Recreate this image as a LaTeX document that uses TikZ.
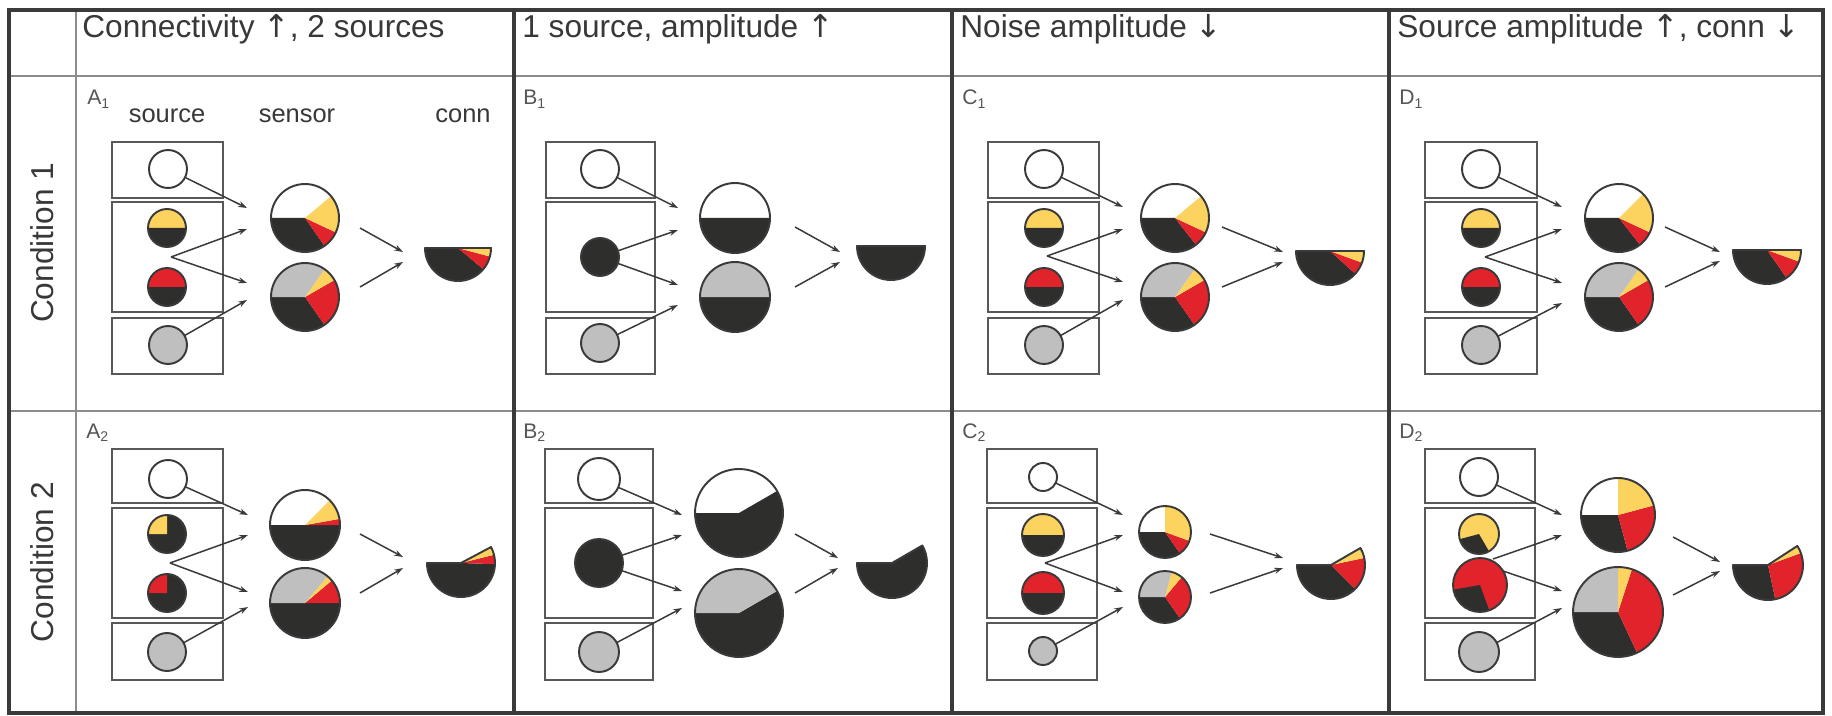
\documentclass[tikz,border=0pt]{standalone}
\usepackage{fontspec}
\setmainfont{Liberation Sans}
\newfontfamily\arrowfont{DejaVu Sans}
\usetikzlibrary{arrows.meta}

\definecolor{blk}{HTML}{2E2E2C}
\definecolor{yel}{HTML}{FBD35E}
\definecolor{rd}{HTML}{E1232B}
\definecolor{gry}{HTML}{BFBFBF}
\definecolor{edge}{HTML}{3A3A3A}
\definecolor{rule}{HTML}{8C8C8C}
\definecolor{txt}{HTML}{383838}

\newcommand{\upar}{{\arrowfont ↑}}
\newcommand{\downar}{{\arrowfont ↓}}
% one slice of a pie: centre, radius, from, to, colour
\newcommand{\pieslice}[5]{\fill[#5] (#1) -- ++(#3:#2) arc[start angle=#3, end angle=#4, radius=#2] -- cycle;}
% outline of the conn wedge: centre, radius, from, to
\newcommand{\connrim}[4]{\draw[edge, line width=1.1pt, line join=round] (#1) -- ++(#3:#2) arc[start angle=#3, end angle=#4, radius=#2] -- cycle;}

\begin{document}
\begin{tikzpicture}[x=0.02cm, y=0.02cm,
    ball/.style={circle, draw=edge, line width=1.1pt, inner sep=0pt, outer sep=0pt, minimum size=0.04cm*#1},
    box/.style={draw=edge!85, line width=1.6pt},
    arr/.style={draw=edge, line width=0.85pt, -{Stealth[length=5pt, width=3.4pt]}},
    hd/.style={anchor=base west, inner sep=0pt, text=txt, font=\fontsize{18}{21}\selectfont},
    rowlab/.style={anchor=base, rotate=90, inner sep=0pt, text=txt, font=\fontsize{18}{21}\selectfont},
    sub/.style={anchor=base, inner sep=0pt, text=txt, font=\fontsize{14.5}{17}\selectfont},
    lbl/.style={anchor=base west, inner sep=0pt, text=txt!85, font=\fontsize{12}{14}\selectfont}]

  \fill[white] (0,0) rectangle (1832,-716);
  \useasboundingbox (0,0) rectangle (1832,-716);

  % Draw the table
  \draw[rule, line width=1.4pt] (9,-76) -- (1823,-76);
  \draw[rule, line width=1.4pt] (9,-411) -- (1823,-411);
  \draw[rule, line width=1.4pt] (76,-10) -- (76,-713);
  \foreach \xc in {514,952,1389}
    \draw[edge, line width=2.2pt] (\xc,-10) -- (\xc,-713);
  \draw[edge, line width=2.6pt] (9,-10) rectangle (1823,-713);

  \node[hd] (hA) at (82,-38) {Connectivity \upar, 2 sources};
  \node[hd] (hB) at (522,-38) {1 source, amplitude \upar};
  \node[hd] (hC) at (960,-38) {Noise amplitude \downar};
  \node[hd] (hD) at (1397,-38) {Source amplitude \upar, conn \downar};
  \node[rowlab] (row1) at (53,-243) {Condition 1};
  \node[rowlab] (row2) at (53,-562) {Condition 2};

  % A1
  \begin{scope}[shift={(76,-76)}]
    \node[lbl] (la) at (11,-29) {A\textsubscript{1}};
    \node[sub] (lsrc) at (91,-47) {source};
    \node[sub] (lsen) at (221,-47) {sensor};
    \node[sub] (lcon) at (387,-47) {conn};
    \draw[box] (36,-66) rectangle (147,-122);
    \draw[box] (36,-126) rectangle (147,-236);
    \draw[box] (36,-242) rectangle (147,-298);
    \coordinate (cy) at (91,-152); \coordinate (cr) at (91,-211);
    \pieslice{cy}{19}{0}{180}{yel} \pieslice{cy}{19}{180}{360}{blk}
    \pieslice{cr}{19}{0}{180}{rd} \pieslice{cr}{19}{180}{360}{blk}
    \node[ball=19] (w) at (92,-93) {};
    \node[ball=19] (y) at (cy) {};
    \node[ball=19] (r) at (cr) {};
    \node[ball=19, fill=gry] (g) at (92,-269) {};
    \coordinate (f) at (95,-181);
    \coordinate (c1) at (229,-142); \coordinate (c2) at (229,-221);
    \pieslice{c1}{34}{180}{305}{blk} \pieslice{c1}{34}{305}{335}{rd} \pieslice{c1}{34}{335}{400}{yel}
    \pieslice{c2}{34}{180}{305}{blk} \pieslice{c2}{34}{305}{390}{rd} \pieslice{c2}{34}{30}{55}{yel} \pieslice{c2}{34}{55}{180}{gry}
    \node[ball=34] (s1) at (c1) {};
    \node[ball=34] (s2) at (c2) {};
    \coordinate (e1) at (171,-132); \coordinate (e2) at (171,-153);
    \coordinate (e3) at (171,-207); \coordinate (e4) at (171,-224);
    \draw[arr] (w) -- (e1);
    \draw[arr] (f) -- (e2);
    \draw[arr] (f) -- (e3);
    \draw[arr] (g) -- (e4);
    \coordinate (k) at (382,-172);
    \pieslice{k}{33}{180}{320}{blk} \pieslice{k}{33}{320}{345}{rd} \pieslice{k}{33}{345}{360}{yel}
    \connrim{k}{33}{180}{360}
    \coordinate (o1) at (284,-152); \coordinate (t1) at (327,-176);
    \coordinate (o2) at (284,-211); \coordinate (t2) at (327,-186);
    \draw[arr] (o1) -- (t1);
    \draw[arr] (o2) -- (t2);
  \end{scope}

  % B1
  \begin{scope}[shift={(514,-76)}]
    \node[lbl] (lb) at (9,-29) {B\textsubscript{1}};
    \draw[box] (32,-66) rectangle (141,-122);
    \draw[box] (32,-126) rectangle (141,-236);
    \draw[box] (32,-242) rectangle (141,-298);
    \node[ball=19] (w) at (86,-93) {};
    \node[ball=19, fill=blk] (m) at (86,-181) {};
    \node[ball=19, fill=gry] (g) at (86,-267) {};
    \coordinate (c1) at (221,-142); \coordinate (c2) at (221,-221);
    \pieslice{c1}{35}{180}{360}{blk}
    \pieslice{c2}{35}{180}{360}{blk} \pieslice{c2}{35}{0}{180}{gry}
    \node[ball=35] (s1) at (c1) {};
    \node[ball=35] (s2) at (c2) {};
    \coordinate (e1) at (164,-132); \coordinate (e2) at (164,-154);
    \coordinate (e3) at (164,-209); \coordinate (e4) at (164,-229);
    \draw[arr] (w) -- (e1);
    \draw[arr] (m) -- (e2);
    \draw[arr] (m) -- (e3);
    \draw[arr] (g) -- (e4);
    \coordinate (k) at (377,-170);
    \pieslice{k}{34}{180}{360}{blk}
    \connrim{k}{34}{180}{360}
    \coordinate (o1) at (281,-151); \coordinate (t1) at (326,-176);
    \coordinate (o2) at (281,-211); \coordinate (t2) at (326,-186);
    \draw[arr] (o1) -- (t1);
    \draw[arr] (o2) -- (t2);
  \end{scope}

  % C1
  \begin{scope}[shift={(952,-76)}]
    \node[lbl] (lc) at (10,-29) {C\textsubscript{1}};
    \draw[box] (36,-66) rectangle (147,-122);
    \draw[box] (36,-126) rectangle (147,-236);
    \draw[box] (36,-242) rectangle (147,-298);
    \coordinate (cy) at (92,-152); \coordinate (cr) at (92,-211);
    \pieslice{cy}{19}{0}{180}{yel} \pieslice{cy}{19}{180}{360}{blk}
    \pieslice{cr}{19}{0}{180}{rd} \pieslice{cr}{19}{180}{360}{blk}
    \node[ball=19] (w) at (92,-93) {};
    \node[ball=19] (y) at (cy) {};
    \node[ball=19] (r) at (cr) {};
    \node[ball=19, fill=gry] (g) at (92,-269) {};
    \coordinate (f) at (95,-180);
    \coordinate (c1) at (223,-142); \coordinate (c2) at (223,-221);
    \pieslice{c1}{34}{180}{308}{blk} \pieslice{c1}{34}{308}{335}{rd} \pieslice{c1}{34}{335}{400}{yel}
    \pieslice{c2}{34}{180}{305}{blk} \pieslice{c2}{34}{305}{390}{rd} \pieslice{c2}{34}{30}{55}{yel} \pieslice{c2}{34}{55}{180}{gry}
    \node[ball=34] (s1) at (c1) {};
    \node[ball=34] (s2) at (c2) {};
    \coordinate (e1) at (171,-131); \coordinate (e2) at (171,-153);
    \coordinate (e3) at (171,-206); \coordinate (e4) at (171,-224);
    \draw[arr] (w) -- (e1);
    \draw[arr] (f) -- (e2);
    \draw[arr] (f) -- (e3);
    \draw[arr] (g) -- (e4);
    \coordinate (k) at (378,-175);
    \pieslice{k}{34}{180}{318}{blk} \pieslice{k}{34}{318}{340}{rd} \pieslice{k}{34}{340}{360}{yel}
    \connrim{k}{34}{180}{360}
    \coordinate (o1) at (270,-151); \coordinate (t1) at (331,-176);
    \coordinate (o2) at (270,-211); \coordinate (t2) at (331,-186);
    \draw[arr] (o1) -- (t1);
    \draw[arr] (o2) -- (t2);
  \end{scope}

  % D1
  \begin{scope}[shift={(1389,-76)}]
    \node[lbl] (ld) at (10,-29) {D\textsubscript{1}};
    \draw[box] (36,-66) rectangle (148,-122);
    \draw[box] (36,-126) rectangle (148,-236);
    \draw[box] (36,-242) rectangle (148,-298);
    \coordinate (cy) at (92,-152); \coordinate (cr) at (92,-211);
    \pieslice{cy}{19}{0}{180}{yel} \pieslice{cy}{19}{180}{360}{blk}
    \pieslice{cr}{19}{0}{180}{rd} \pieslice{cr}{19}{180}{360}{blk}
    \node[ball=19] (w) at (92,-93) {};
    \node[ball=19] (y) at (cy) {};
    \node[ball=19] (r) at (cr) {};
    \node[ball=19, fill=gry] (g) at (92,-269) {};
    \coordinate (f) at (96,-181);
    \coordinate (c1) at (230,-142); \coordinate (c2) at (230,-221);
    \pieslice{c1}{34}{180}{308}{blk} \pieslice{c1}{34}{308}{335}{rd} \pieslice{c1}{34}{335}{405}{yel}
    \pieslice{c2}{34}{180}{305}{blk} \pieslice{c2}{34}{305}{390}{rd} \pieslice{c2}{34}{30}{55}{yel} \pieslice{c2}{34}{55}{180}{gry}
    \node[ball=34] (s1) at (c1) {};
    \node[ball=34] (s2) at (c2) {};
    \coordinate (e1) at (173,-131); \coordinate (e2) at (173,-153);
    \coordinate (e3) at (173,-207); \coordinate (e4) at (173,-227);
    \draw[arr] (w) -- (e1);
    \draw[arr] (f) -- (e2);
    \draw[arr] (f) -- (e3);
    \draw[arr] (g) -- (e4);
    \coordinate (k) at (378,-174);
    \pieslice{k}{34}{180}{305}{blk} \pieslice{k}{34}{305}{340}{rd} \pieslice{k}{34}{340}{360}{yel}
    \connrim{k}{34}{180}{360}
    \coordinate (o1) at (276,-151); \coordinate (t1) at (331,-176);
    \coordinate (o2) at (276,-211); \coordinate (t2) at (331,-185);
    \draw[arr] (o1) -- (t1);
    \draw[arr] (o2) -- (t2);
  \end{scope}

  % A2
  \begin{scope}[shift={(76,-411)}]
    \node[lbl] (la) at (10,-27) {A\textsubscript{2}};
    \draw[box] (36,-38) rectangle (147,-92);
    \draw[box] (36,-97) rectangle (147,-207);
    \draw[box] (36,-212) rectangle (147,-269);
    \coordinate (cy) at (91,-123); \coordinate (cr) at (91,-182);
    \pieslice{cy}{19}{0}{360}{blk} \pieslice{cy}{19}{90}{180}{yel}
    \pieslice{cr}{19}{0}{360}{blk} \pieslice{cr}{19}{90}{180}{rd}
    \node[ball=19] (w) at (92,-68) {};
    \node[ball=19] (y) at (cy) {};
    \node[ball=19] (r) at (cr) {};
    \node[ball=19, fill=gry] (g) at (91,-241) {};
    \coordinate (f) at (94,-152);
    \coordinate (c1) at (229,-114); \coordinate (c2) at (229,-192);
    \pieslice{c1}{35}{180}{360}{blk} \pieslice{c1}{35}{0}{10}{rd} \pieslice{c1}{35}{10}{45}{yel}
    \pieslice{c2}{35}{180}{360}{blk} \pieslice{c2}{35}{0}{40}{rd} \pieslice{c2}{35}{40}{50}{yel} \pieslice{c2}{35}{50}{180}{gry}
    \node[ball=35] (s1) at (c1) {};
    \node[ball=35] (s2) at (c2) {};
    \coordinate (e1) at (172,-104); \coordinate (e2) at (172,-124);
    \coordinate (e3) at (172,-181); \coordinate (e4) at (172,-196);
    \draw[arr] (w) -- (e1);
    \draw[arr] (f) -- (e2);
    \draw[arr] (f) -- (e3);
    \draw[arr] (g) -- (e4);
    \coordinate (k) at (385,-152);
    \pieslice{k}{34}{180}{358}{blk} \pieslice{k}{34}{358}{374}{rd} \pieslice{k}{34}{374}{388}{yel}
    \connrim{k}{34}{180}{388}
    \coordinate (o1) at (284,-123); \coordinate (t1) at (327,-146);
    \coordinate (o2) at (284,-182); \coordinate (t2) at (327,-157);
    \draw[arr] (o1) -- (t1);
    \draw[arr] (o2) -- (t2);
  \end{scope}

  % B2
  \begin{scope}[shift={(514,-411)}]
    \node[lbl] (lb) at (9,-27) {B\textsubscript{2}};
    \draw[box] (31,-38) rectangle (139,-92);
    \draw[box] (31,-97) rectangle (139,-207);
    \draw[box] (31,-212) rectangle (139,-269);
    \node[ball=21] (w) at (85,-68) {};
    \node[ball=24, fill=blk] (m) at (85,-152) {};
    \node[ball=20, fill=gry] (g) at (85,-241) {};
    \coordinate (c1) at (225,-102); \coordinate (c2) at (225,-202);
    \pieslice{c1}{44}{180}{390}{blk}
    \pieslice{c2}{44}{180}{390}{blk} \pieslice{c2}{44}{30}{180}{gry}
    \node[ball=44] (s1) at (c1) {};
    \node[ball=44] (s2) at (c2) {};
    \coordinate (e1) at (168,-104); \coordinate (e2) at (168,-124);
    \coordinate (e3) at (168,-180); \coordinate (e4) at (168,-197);
    \draw[arr] (w) -- (e1);
    \draw[arr] (m) -- (e2);
    \draw[arr] (m) -- (e3);
    \draw[arr] (g) -- (e4);
    \coordinate (k) at (378,-152);
    \pieslice{k}{35}{180}{390}{blk}
    \connrim{k}{35}{180}{390}
    \coordinate (o1) at (281,-123); \coordinate (t1) at (324,-147);
    \coordinate (o2) at (281,-182); \coordinate (t2) at (324,-157);
    \draw[arr] (o1) -- (t1);
    \draw[arr] (o2) -- (t2);
  \end{scope}

  % C2
  \begin{scope}[shift={(952,-411)}]
    \node[lbl] (lc) at (10,-27) {C\textsubscript{2}};
    \draw[box] (35,-38) rectangle (145,-92);
    \draw[box] (35,-97) rectangle (145,-207);
    \draw[box] (35,-212) rectangle (145,-269);
    \coordinate (cy) at (91,-124); \coordinate (cr) at (91,-182);
    \pieslice{cy}{21}{0}{180}{yel} \pieslice{cy}{21}{180}{360}{blk}
    \pieslice{cr}{21}{0}{180}{rd} \pieslice{cr}{21}{180}{360}{blk}
    \node[ball=14] (w) at (91,-66) {};
    \node[ball=21] (y) at (cy) {};
    \node[ball=21] (r) at (cr) {};
    \node[ball=14, fill=gry] (g) at (91,-240) {};
    \coordinate (f) at (93,-152);
    \coordinate (c1) at (213,-121); \coordinate (c2) at (213,-186);
    \pieslice{c1}{26}{180}{305}{blk} \pieslice{c1}{26}{305}{340}{rd} \pieslice{c1}{26}{340}{450}{yel}
    \pieslice{c2}{26}{180}{305}{blk} \pieslice{c2}{26}{305}{410}{rd} \pieslice{c2}{26}{50}{75}{yel} \pieslice{c2}{26}{75}{180}{gry}
    \node[ball=26] (s1) at (c1) {};
    \node[ball=26] (s2) at (c2) {};
    \coordinate (e1) at (171,-104); \coordinate (e2) at (171,-124);
    \coordinate (e3) at (171,-181); \coordinate (e4) at (171,-196);
    \draw[arr] (w) -- (e1);
    \draw[arr] (f) -- (e2);
    \draw[arr] (f) -- (e3);
    \draw[arr] (g) -- (e4);
    \coordinate (k) at (379,-154);
    \pieslice{k}{34}{180}{315}{blk} \pieslice{k}{34}{315}{372}{rd} \pieslice{k}{34}{372}{390}{yel}
    \connrim{k}{34}{180}{390}
    \coordinate (o1) at (258,-123); \coordinate (t1) at (331,-147);
    \coordinate (o2) at (258,-182); \coordinate (t2) at (331,-157);
    \draw[arr] (o1) -- (t1);
    \draw[arr] (o2) -- (t2);
  \end{scope}

  % D2
  \begin{scope}[shift={(1389,-411)}]
    \node[lbl] (ld) at (10,-27) {D\textsubscript{2}};
    \draw[box] (36,-38) rectangle (146,-92);
    \draw[box] (36,-97) rectangle (146,-207);
    \draw[box] (36,-212) rectangle (146,-269);
    \coordinate (cy) at (90,-123); \coordinate (cr) at (91,-174);
    \pieslice{cy}{20}{0}{360}{yel} \pieslice{cy}{20}{195}{300}{blk}
    \pieslice{cr}{27}{0}{360}{rd} \pieslice{cr}{27}{190}{290}{blk}
    \node[ball=19] (w) at (90,-66) {};
    \node[ball=20] (y) at (cy) {};
    \node[ball=27] (r) at (cr) {};
    \node[ball=20, fill=gry] (g) at (90,-241) {};
    \coordinate (f) at (104,-148); \coordinate (f2) at (114,-160);
    \coordinate (c1) at (229,-104); \coordinate (c2) at (229,-201);
    \pieslice{c1}{37}{180}{285}{blk} \pieslice{c1}{37}{285}{375}{rd} \pieslice{c1}{37}{15}{90}{yel}
    \pieslice{c2}{45}{180}{295}{blk} \pieslice{c2}{45}{295}{432}{rd} \pieslice{c2}{45}{72}{90}{yel} \pieslice{c2}{45}{90}{180}{gry}
    \node[ball=37] (s1) at (c1) {};
    \node[ball=45] (s2) at (c2) {};
    \coordinate (e1) at (173,-104); \coordinate (e2) at (173,-124);
    \coordinate (e3) at (173,-180); \coordinate (e4) at (173,-197);
    \draw[arr] (w) -- (e1);
    \draw[arr] (f) -- (e2);
    \draw[arr] (f2) -- (e3);
    \draw[arr] (g) -- (e4);
    \coordinate (k) at (379,-154);
    \pieslice{k}{35}{180}{282}{blk} \pieslice{k}{35}{282}{380}{rd} \pieslice{k}{35}{380}{393}{yel}
    \connrim{k}{35}{180}{393}
    \coordinate (o1) at (284,-126); \coordinate (t1) at (331,-151);
    \coordinate (o2) at (284,-184); \coordinate (t2) at (331,-160);
    \draw[arr] (o1) -- (t1);
    \draw[arr] (o2) -- (t2);
  \end{scope}

\end{tikzpicture}
\end{document}
